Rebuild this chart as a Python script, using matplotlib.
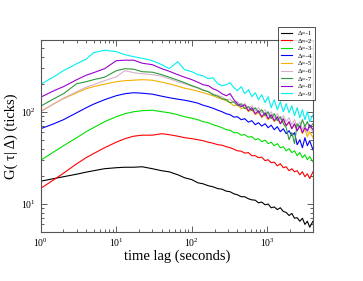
import matplotlib
matplotlib.use("Agg")
import matplotlib.pyplot as plt
from matplotlib.ticker import LogLocator, NullFormatter

plt.rcParams["font.family"] = ["Liberation Serif", "DejaVu Serif"]
plt.rcParams["mathtext.fontset"] = "custom"
plt.rcParams["mathtext.rm"] = "Liberation Serif"

# time lag in seconds (shared by all curves)
lag = [1, 1.5, 2, 3, 4, 5, 7, 10, 13, 17, 22, 30, 40, 50, 65, 80, 100, 120, 140, 165,
       190, 220, 250, 285, 320, 360, 400, 450, 500, 560, 620, 690, 760, 840, 930, 1020,
       1120, 1230, 1350, 1480, 1620, 1770, 1930, 2100, 2280, 2470, 2680, 2900, 3130,
       3370, 3620, 4000]

g1 = [17.7, 18.9, 19.8, 21.1, 22.2, 23.0, 24.2, 24.8, 25.1, 25.1, 25.4, 24.2, 23.0, 22.4,
      20.8, 19.3, 18.4, 17.0, 16.6, 15.8, 15.4, 14.7, 14.5, 13.8, 13.6, 12.9, 12.6, 12.0,
      12.0, 11.4, 11.1, 11.0, 10.3, 10.5, 9.8, 10.0, 9.1, 9.3, 8.7, 9.1, 8.3, 8.1, 7.5,
      7.9, 7.0, 7.1, 6.5, 7.0, 6.0, 6.5, 5.6, 6.5]
g2 = [14.8, 18.4, 21.6, 27.4, 31.9, 35.3, 40.9, 47.0, 51.3, 54.6, 56.0, 56.0, 58.1, 56.7,
      54.6, 52.6, 51.3, 50.0, 48.8, 47.0, 45.8, 44.1, 43.6, 42.0, 40.9, 39.4, 37.9, 37.5,
      35.7, 36.2, 33.5, 33.5, 31.9, 32.3, 29.6, 30.3, 28.1, 28.5, 26.0, 27.4, 24.8, 25.4,
      23.0, 24.2, 22.4, 23.0, 20.8, 22.4, 19.8, 21.3, 18.9, 22.4]
g3 = [29.9, 37.0, 43.0, 52.6, 61.1, 67.5, 78.5, 88.9, 95.8, 100.7, 103.3, 104.6, 100.7,
      98.2, 93.5, 88.9, 85.6, 82.5, 78.5, 76.5, 72.8, 70.2, 67.5, 64.2, 63.4, 59.6, 59.6,
      56.0, 56.7, 53.3, 54.0, 50.0, 51.3, 47.6, 49.4, 45.3, 47.0, 43.0, 45.3, 40.9, 42.0,
      37.9, 39.9, 36.2, 37.9, 33.5, 36.2, 31.9, 34.4, 30.3, 32.7, 28.8]
g4 = [65.8, 74.6, 82.5, 98.2, 111.3, 121.6, 136.1, 150.4, 158.1, 162.1, 160.1, 156.2,
      148.5, 143.1, 137.8, 134.4, 129.4, 124.8, 118.6, 114.2, 110.0, 104.6, 100.7, 95.8,
      93.5, 88.0, 88.9, 82.5, 84.6, 77.6, 80.5, 72.8, 76.5, 70.2, 74.6, 67.5, 71.9, 64.2,
      69.2, 61.1, 65.8, 58.1, 62.6, 55.3, 59.6, 44.1, 50.0, 40.9, 52.6, 43.0, 48.8, 38.9]
g5 = [102.0, 123.1, 139.5, 162.1, 179.2, 188.6, 200.6, 213.5, 218.9, 221.7, 224.5, 221.7,
      210.8, 203.1, 190.8, 181.5, 174.8, 168.4, 162.1, 156.2, 150.4, 143.1, 137.8, 132.7,
      126.2, 117.0, 120.1, 108.6, 112.8, 100.7, 105.9, 93.5, 98.2, 86.7, 93.5, 82.5, 88.9,
      78.5, 84.6, 74.6, 80.5, 71.0, 76.5, 65.8, 72.8, 62.6, 69.2, 58.1, 65.8, 53.9, 61.1,
      52.6]
g6 = [100.7, 123.1, 141.3, 166.4, 186.2, 198.1, 218.9, 241.9, 281.2, 267.4, 260.8, 254.4,
      245.1, 230.2, 213.5, 203.1, 190.8, 181.5, 174.8, 166.4, 158.1, 150.4, 146.7, 136.1,
      137.8, 126.2, 129.4, 117.1, 123.1, 111.3, 117.1, 103.3, 111.3, 98.2, 105.9, 91.2,
      100.7, 86.7, 95.8, 82.5, 91.2, 78.5, 86.7, 72.8, 82.5, 69.2, 78.5, 64.2, 72.8, 59.6,
      69.2, 61.1]
g7 = [115.7, 139.5, 158.1, 203.1, 213.5, 224.5, 239.0, 281.2, 295.6, 291.9, 274.2, 270.8,
      254.4, 239.0, 221.7, 208.3, 193.2, 183.8, 172.6, 166.4, 154.2, 148.6, 139.5, 136.1,
      126.2, 129.4, 117.1, 123.1, 108.6, 114.2, 103.3, 111.3, 98.2, 105.9, 91.2, 100.7,
      84.6, 95.8, 80.5, 88.9, 74.6, 67.5, 50.0, 59.6, 45.3, 74.6, 67.5, 82.5, 69.2, 78.5,
      67.5, 74.6]
g8 = [144.9, 170.5, 188.6, 224.5, 251.2, 267.4, 295.6, 361.2, 365.7, 365.7, 339.3, 326.8,
      295.6, 277.6, 254.4, 239.0, 224.5, 210.8, 198.1, 193.2, 179.2, 170.5, 158.1, 150.4,
      158.1, 136.1, 123.1, 114.2, 120.1, 103.3, 111.3, 95.8, 103.3, 88.9, 98.2, 84.6, 93.5,
      80.5, 88.9, 74.6, 84.6, 71.0, 78.5, 65.8, 74.6, 62.6, 71.0, 59.6, 67.5, 62.6, 72.8,
      64.2]
g9 = [200.6, 241.9, 281.2, 335.1, 375.0, 441.2, 469.8, 452.4, 419.7, 399.1, 384.0, 361.2,
      326.8, 295.6, 352.2, 288.3, 274.2, 254.4, 248.1, 230.2, 236.0, 203.1, 193.2, 198.1,
      208.3, 183.8, 170.5, 188.6, 158.1, 174.8, 146.7, 162.1, 136.1, 154.2, 126.2, 146.7,
      111.3, 136.1, 105.9, 129.4, 100.7, 123.1, 98.2, 117.1, 91.2, 111.3, 86.7, 105.9,
      82.5, 100.7, 78.5, 93.5]

series = [g1, g2, g3, g4, g5, g6, g7, g8, g9]
labels = ["Δ=-1", "Δ=-2", "Δ=-3", "Δ=-4", "Δ=-5", "Δ=-6", "Δ=-7", "Δ=-8", "Δ=-9"]
colors = ["#000000", "#ff0000", "#00e000", "#0000ff", "#f5b000", "#d8b0c8",
          "#2e9a3a", "#9a00d0", "#00f0f0"]

fig = plt.figure(figsize=(3.63, 2.81), dpi=100)
ax = fig.add_axes([0.1121, 0.1754, 0.7501, 0.6808])

for g, lab, c in zip(series, labels, colors):
    ax.plot(lag, g, color=c, lw=0.8, label=lab)

ax.set_xscale("log")
ax.set_yscale("log")
ax.set_xlim(1, 4000)
ax.set_ylim(5, 600)
ax.xaxis.set_major_locator(LogLocator(base=10))
ax.xaxis.set_minor_locator(LogLocator(base=10, subs=range(2, 10)))
ax.yaxis.set_minor_locator(LogLocator(base=10, subs=range(2, 10)))
ax.xaxis.set_minor_formatter(NullFormatter())
ax.yaxis.set_minor_formatter(NullFormatter())
ax.tick_params(which="both", direction="in", top=True, right=True, width=0.6,
               colors="#444444", labelcolor="black", labelsize=7)
ax.tick_params(which="major", length=4.3)
ax.tick_params(which="minor", length=2.2)
for s in ax.spines.values():
    s.set_linewidth(0.8)
    s.set_color("#555555")

ax.set_xlabel("time lag (seconds)", fontsize=10.5, labelpad=0.5)
ax.set_ylabel("G( τ| Δ) (ticks)", fontsize=10.5, labelpad=2)

leg = ax.legend(loc="upper right", bbox_to_anchor=(315 / 363, 1 - 27 / 281),
                bbox_transform=fig.transFigure, fontsize=5, frameon=True,
                fancybox=False, edgecolor="black", borderaxespad=0,
                handlelength=1.6, handletextpad=0.8, labelspacing=0.25,
                borderpad=0.45)
leg.get_frame().set_linewidth(0.6)

fig.savefig("out.png", dpi=100)
